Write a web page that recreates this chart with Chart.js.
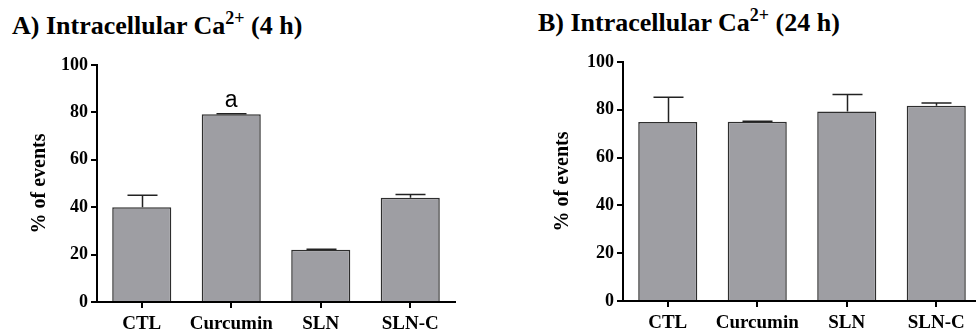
<!DOCTYPE html>
<html>
<head>
<meta charset="utf-8">
<script src="https://cdn.jsdelivr.net/npm/chart.js@4.4.1/dist/chart.umd.min.js"></script>
<style>
  html, body { margin: 0; padding: 0; background: #fff; width: 976px; height: 336px; overflow: hidden; position: relative; }
  .ttl { position: absolute; font-family: "Liberation Serif", "Times New Roman", serif; font-weight: bold; font-size: 26px; color: #000; white-space: nowrap; line-height: 1; }
  .ttl sup { font-size: 18px; vertical-align: 0; position: relative; top: -10px; }
  canvas { position: absolute; top: 0; }
</style>
</head>
<body>
<div class="ttl" id="tA" style="left:12px; top:13px;">A) Intracellular Ca<sup>2+</sup> (4 h)</div>
<div class="ttl" id="tB" style="left:538px; top:10px;">B) Intracellular Ca<sup>2+</sup> (24 h)</div>
<canvas id="cA" width="440" height="336" style="left:20px;"></canvas>
<canvas id="cB" width="443" height="336" style="left:543px;"></canvas>
<script>
const categories = ['CTL', 'Curcumin', 'SLN', 'SLN-C'];
const valuesA = [40.0, 79.2, 22.0, 44.0];
const errorsA = [5.0, 0.2, 0.3, 1.4];
const notesA = ['', 'a', '', ''];
const valuesB = [74.9, 75.0, 79.3, 81.7];
const errorsB = [10.3, 0.2, 7.1, 1.1];
const notesB = ['', '', '', ''];
const yTicks = [0, 20, 40, 60, 80, 100];
const yTitle = '% of events';

const SERIF = '"Liberation Serif", "Times New Roman", serif';

const errorBarPlugin = {
  id: 'errorBars',
  afterDatasetsDraw(chart, args, opts) {
    const ctx = chart.ctx;
    const meta = chart.getDatasetMeta(0);
    const yScale = chart.scales.y;
    const vals = chart.data.datasets[0].data;
    ctx.save();
    ctx.strokeStyle = '#222';
    ctx.lineWidth = 1.5;
    meta.data.forEach((bar, i) => {
      const e = opts.errors[i];
      const top = yScale.getPixelForValue(vals[i] + e);
      const x = Math.round(bar.x) + 0.5;
      ctx.beginPath();
      ctx.moveTo(x, bar.y);
      ctx.lineTo(x, top);
      ctx.moveTo(x - 15, top);
      ctx.lineTo(x + 15, top);
      ctx.stroke();
      const note = opts.notes[i];
      if (note) {
        ctx.fillStyle = '#000';
        ctx.font = '23px "Liberation Sans", Arial, sans-serif';
        ctx.textAlign = 'center';
        ctx.textBaseline = 'alphabetic';
        ctx.fillText(note, bar.x, Math.min(top, bar.y) - 7);
      }
    });
    ctx.restore();
  }
};

function makeChart(id, values, errors, notes, yWidth, topPad, xHeight) {
  return new Chart(document.getElementById(id), {
    type: 'bar',
    data: {
      labels: categories,
      datasets: [{
        data: values,
        backgroundColor: '#9e9ea3',
        borderColor: '#2e2e2e',
        borderWidth: 1.5,
        borderSkipped: 'bottom',
        categoryPercentage: 1.0,
        barPercentage: 0.66
      }]
    },
    options: {
      responsive: false,
      devicePixelRatio: 1,
      animation: false,
      layout: { padding: { top: topPad, right: 5, left: 0, bottom: 0 } },
      plugins: {
        legend: { display: false },
        tooltip: { enabled: false },
        errorBars: { errors: errors, notes: notes }
      },
      scales: {
        x: {
          offset: true,
          grid: { display: true, drawOnChartArea: false, drawTicks: true, tickLength: 6, color: '#000', lineWidth: 2, offset: false },
          border: { display: true, color: '#000', width: 2 },
          ticks: { color: '#000', font: { family: SERIF, weight: 'bold', size: 19 }, padding: 5, maxRotation: 0, autoSkip: false },
          afterFit(scale) { scale.height = xHeight; }
        },
        y: {
          min: 0, max: 100,
          afterBuildTicks(scale) { scale.ticks = yTicks.map(v => ({ value: v })); },
          grid: { display: true, drawOnChartArea: false, drawTicks: true, tickLength: 6, color: '#000', lineWidth: 2 },
          border: { display: true, color: '#000', width: 2 },
          ticks: { color: '#000', font: { family: SERIF, weight: 'bold', size: 18 }, padding: 3 },
          title: { display: true, text: yTitle, color: '#000', font: { family: SERIF, weight: 'bold', size: 20 }, padding: { top: 8, bottom: 0 } },
          afterFit(scale) { scale.width = yWidth; }
        }
      }
    },
    plugins: [errorBarPlugin]
  });
}

makeChart('cA', valuesA, errorsA, notesA, 77, 65, 34);
makeChart('cB', valuesB, errorsB, notesB, 80, 62, 35);
</script>
</body>
</html>
